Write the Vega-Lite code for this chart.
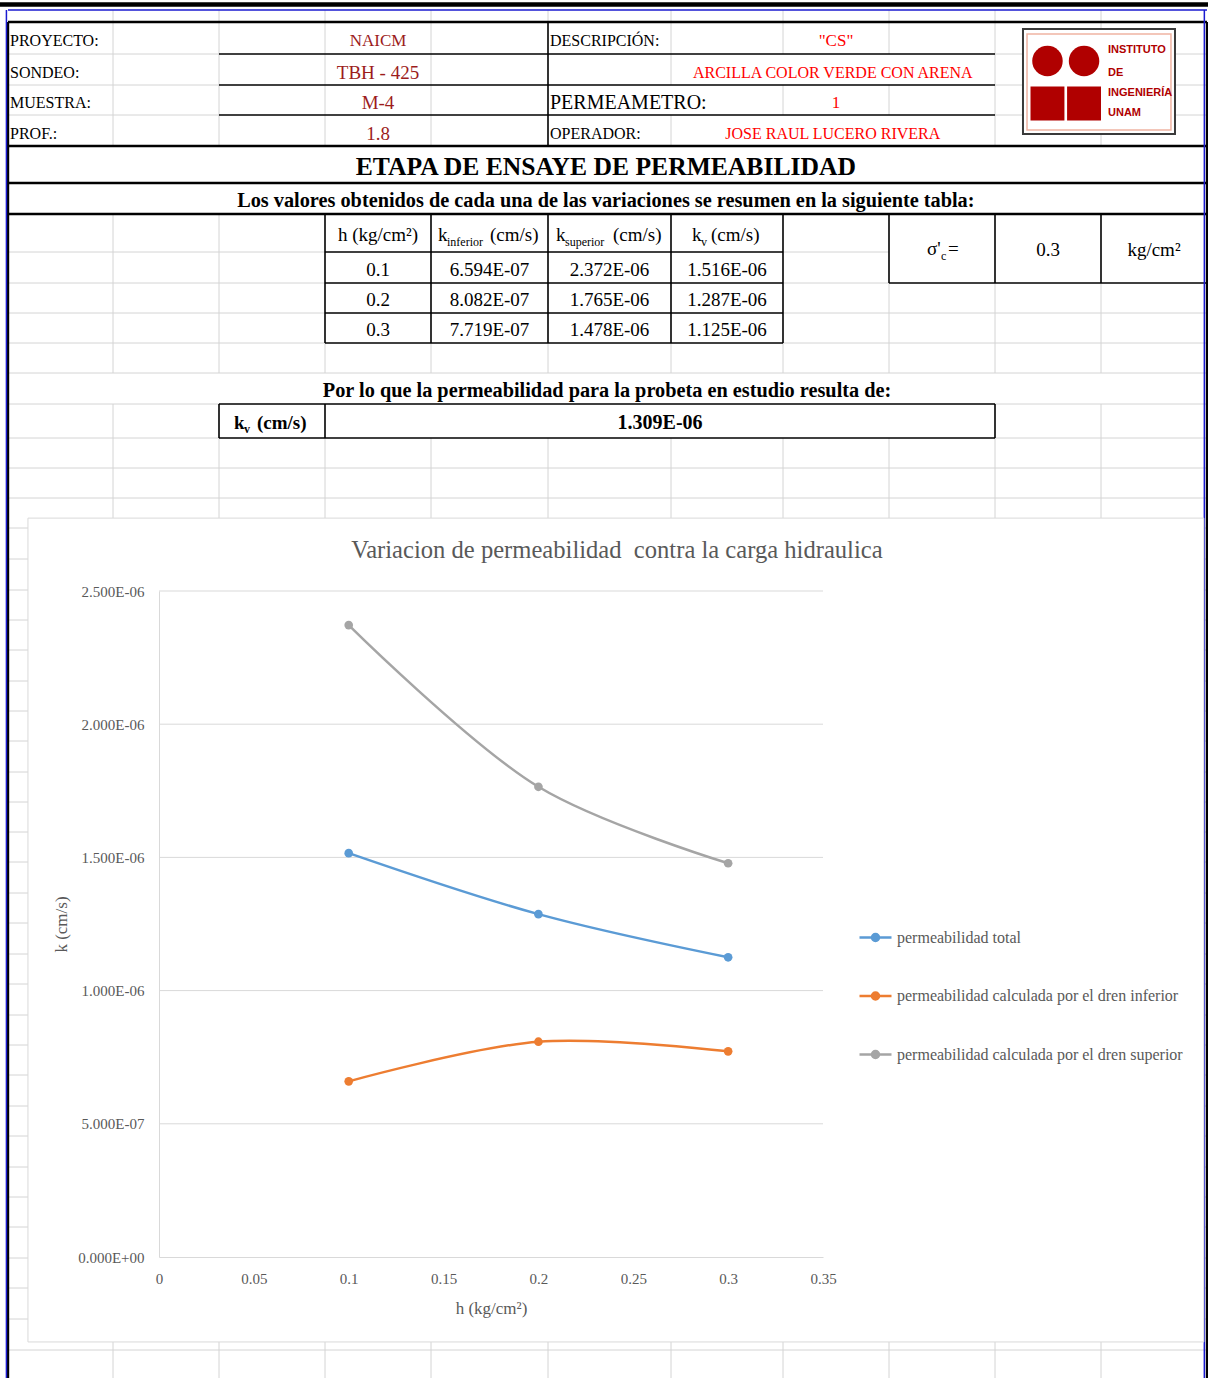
{
  "$schema": "https://vega.github.io/schema/vega-lite/v6.json",
  "width": 1208,
  "height": 1378,
  "padding": 0,
  "autosize": {"type": "none"},
  "background": "white",
  "config": {"view": {"stroke": null}, "font": "Liberation Serif"},
  "resolve": {"scale": {"x": "independent", "y": "independent"}, "axis": {"x": "independent", "y": "independent"}},
  "layer": [
    {
      "encoding": {
        "x": {"field": "c", "type": "quantitative", "axis": null,
          "scale": {"domain": [0,1,2,3,4,5,6,7,8,9,10,11], "range": [8,113,219,325,431,548,671,783,889,995,1101,1207], "nice": false, "zero": false}},
        "y": {"field": "r", "type": "quantitative", "axis": null,
          "scale": {"domain": [0,1,2,3,4,5,6,7,8,9,10,11,12,13,14,15,16,17,18,19,20,21,22,23,24,25,26,27,28,29,30,31,32,33,34,35,36,37,38,39,40,41,42,43,44,45],
                    "range": [10,22,54,85,115,146,183,214,252,283,313,343,373,404,438,468,498,528,559,590,620,650,681,711,741,772,802,832,862,893,923,954,984,1015,1045,1075,1106,1136,1167,1197,1227,1258,1288,1319,1350,1380], "nice": false, "zero": false}}
      },
      "layer": [
        {
          "data": {"values": [
            {"c":1,"r":0,"c2":1,"r2":5},{"c":1,"r":7,"c2":1,"r2":12},{"c":1,"r":13,"c2":1,"r2":45},
            {"c":2,"r":0,"c2":2,"r2":5},{"c":2,"r":7,"c2":2,"r2":12},{"c":2,"r":14,"c2":2,"r2":45},
            {"c":3,"r":0,"c2":3,"r2":5},{"c":3,"r":11,"c2":3,"r2":12},{"c":3,"r":14,"c2":3,"r2":45},
            {"c":4,"r":0,"c2":4,"r2":5},{"c":4,"r":11,"c2":4,"r2":12},{"c":4,"r":14,"c2":4,"r2":45},
            {"c":5,"r":0,"c2":5,"r2":1},{"c":5,"r":11,"c2":5,"r2":12},{"c":5,"r":14,"c2":5,"r2":45},
            {"c":6,"r":0,"c2":6,"r2":3},{"c":6,"r":4,"c2":6,"r2":5},{"c":6,"r":11,"c2":6,"r2":12},{"c":6,"r":14,"c2":6,"r2":45},
            {"c":7,"r":0,"c2":7,"r2":2},{"c":7,"r":3,"c2":7,"r2":4},{"c":7,"r":11,"c2":7,"r2":12},{"c":7,"r":14,"c2":7,"r2":45},
            {"c":8,"r":0,"c2":8,"r2":2},{"c":8,"r":3,"c2":8,"r2":4},{"c":8,"r":9,"c2":8,"r2":12},{"c":8,"r":14,"c2":8,"r2":45},
            {"c":9,"r":0,"c2":9,"r2":5},{"c":9,"r":9,"c2":9,"r2":12},{"c":9,"r":14,"c2":9,"r2":45},
            {"c":10,"r":0,"c2":10,"r2":5},{"c":10,"r":9,"c2":10,"r2":12},{"c":10,"r":13,"c2":10,"r2":45},
            {"c":0,"r":2,"c2":2,"r2":2},{"c":9,"r":2,"c2":11,"r2":2},
            {"c":0,"r":3,"c2":2,"r2":3},{"c":9,"r":3,"c2":11,"r2":3},
            {"c":0,"r":4,"c2":2,"r2":4},{"c":9,"r":4,"c2":11,"r2":4},
            {"c":0,"r":8,"c2":3,"r2":8},{"c":7,"r":8,"c2":8,"r2":8},
            {"c":0,"r":9,"c2":3,"r2":9},{"c":7,"r":9,"c2":8,"r2":9},
            {"c":0,"r":10,"c2":3,"r2":10},{"c":7,"r":10,"c2":11,"r2":10},
            {"c":0,"r":11,"c2":3,"r2":11},{"c":7,"r":11,"c2":11,"r2":11},
            {"c":0,"r":12,"c2":11,"r2":12},
            {"c":0,"r":13,"c2":2,"r2":13},{"c":9,"r":13,"c2":11,"r2":13},
            {"c":0,"r":14,"c2":2,"r2":14},{"c":9,"r":14,"c2":11,"r2":14},
            {"c":0,"r":15,"c2":11,"r2":15},{"c":0,"r":16,"c2":11,"r2":16},{"c":0,"r":17,"c2":11,"r2":17},
            {"c":0,"r":18,"c2":11,"r2":18},{"c":0,"r":19,"c2":11,"r2":19},{"c":0,"r":20,"c2":11,"r2":20},
            {"c":0,"r":21,"c2":11,"r2":21},{"c":0,"r":22,"c2":11,"r2":22},{"c":0,"r":23,"c2":11,"r2":23},
            {"c":0,"r":24,"c2":11,"r2":24},{"c":0,"r":25,"c2":11,"r2":25},{"c":0,"r":26,"c2":11,"r2":26},
            {"c":0,"r":27,"c2":11,"r2":27},{"c":0,"r":28,"c2":11,"r2":28},{"c":0,"r":29,"c2":11,"r2":29},
            {"c":0,"r":30,"c2":11,"r2":30},{"c":0,"r":31,"c2":11,"r2":31},{"c":0,"r":32,"c2":11,"r2":32},
            {"c":0,"r":33,"c2":11,"r2":33},{"c":0,"r":34,"c2":11,"r2":34},{"c":0,"r":35,"c2":11,"r2":35},
            {"c":0,"r":36,"c2":11,"r2":36},{"c":0,"r":37,"c2":11,"r2":37},{"c":0,"r":38,"c2":11,"r2":38},
            {"c":0,"r":39,"c2":11,"r2":39},{"c":0,"r":40,"c2":11,"r2":40},{"c":0,"r":41,"c2":11,"r2":41},
            {"c":0,"r":42,"c2":11,"r2":42},{"c":0,"r":43,"c2":11,"r2":43},{"c":0,"r":44,"c2":11,"r2":44}
          ]},
          "mark": {"type": "rule", "color": "#d4d4d4", "strokeWidth": 1},
          "encoding": {"x2": {"field": "c2"}, "y2": {"field": "r2"}}
        },
        {
          "data": {"values": [
            {"c":2,"r":2,"c2":9,"r2":2},{"c":2,"r":3,"c2":9,"r2":3},{"c":2,"r":4,"c2":9,"r2":4},
            {"c":3,"r":8,"c2":7,"r2":8},{"c":3,"r":9,"c2":7,"r2":9},{"c":8,"r":9,"c2":11,"r2":9},
            {"c":3,"r":10,"c2":7,"r2":10},{"c":3,"r":11,"c2":7,"r2":11},
            {"c":2,"r":13,"c2":9,"r2":13},{"c":2,"r":14,"c2":9,"r2":14},
            {"c":5,"r":1,"c2":5,"r2":5},
            {"c":3,"r":7,"c2":3,"r2":11},{"c":4,"r":7,"c2":4,"r2":11},{"c":5,"r":7,"c2":5,"r2":11},
            {"c":6,"r":7,"c2":6,"r2":11},{"c":7,"r":7,"c2":7,"r2":11},
            {"c":8,"r":7,"c2":8,"r2":9},{"c":9,"r":7,"c2":9,"r2":9},{"c":10,"r":7,"c2":10,"r2":9},
            {"c":2,"r":13,"c2":2,"r2":14},{"c":3,"r":13,"c2":3,"r2":14},{"c":9,"r":13,"c2":9,"r2":14}
          ]},
          "mark": {"type": "rule", "color": "#000000", "strokeWidth": 1.6},
          "encoding": {"x2": {"field": "c2"}, "y2": {"field": "r2"}}
        },
        {
          "data": {"values": [
            {"c":0,"r":1,"c2":11,"r2":1},{"c":0,"r":5,"c2":11,"r2":5},{"c":0,"r":6,"c2":11,"r2":6},
            {"c":0,"r":7,"c2":11,"r2":7},{"c":0,"r":1,"c2":0,"r2":45},{"c":11,"r":1,"c2":11,"r2":45}
          ]},
          "mark": {"type": "rule", "color": "#000000", "strokeWidth": 2.4},
          "encoding": {"x2": {"field": "c2"}, "y2": {"field": "r2"}}
        },
        {
          "data": {"values": [{"c":-0.1,"r":-0.45,"c2":11.1,"r2":-0.45}]},
          "mark": {"type": "rule", "color": "#000000", "strokeWidth": 4.5},
          "encoding": {"x2": {"field": "c2"}, "y2": {"field": "r2"}}
        },
        {
          "data": {"values": [
            {"c":0,"r":0,"c2":11,"r2":0},{"c":-0.015,"r":0,"c2":-0.015,"r2":45},{"c":10.975,"r":0,"c2":10.975,"r2":45}
          ]},
          "mark": {"type": "rule", "color": "#1a1ad0", "strokeWidth": 1.5},
          "encoding": {"x2": {"field": "c2"}, "y2": {"field": "r2"}}
        },
        {
          "data": {"values": [{"c":0.19,"r":16.67,"c2":10.97,"r2":43.74}]},
          "mark": {"type": "rect", "fill": "#ffffff", "stroke": "#d9d9d9", "strokeWidth": 1},
          "encoding": {"x2": {"field": "c2"}, "y2": {"field": "r2"}}
        },
        {
          "data": {"values": [{"c":9.264,"r":1.219,"c2":10.698,"r2":4.613}]},
          "mark": {"type": "rect", "fill": "#ffffff", "stroke": "#3a3a3a", "strokeWidth": 2},
          "encoding": {"x2": {"field": "c2"}, "y2": {"field": "r2"}}
        },
        {
          "data": {"values": [{"c":9.302,"r":1.375,"c2":10.66,"r2":4.484}]},
          "mark": {"type": "rect", "fill": null, "fillOpacity": 0, "stroke": "#f0b4a2", "strokeWidth": 1.5},
          "encoding": {"x2": {"field": "c2"}, "y2": {"field": "r2"}}
        },
        {
          "data": {"values": [{"c":9.495,"r":2.226},{"c":9.84,"r":2.226}]},
          "mark": {"type": "point", "shape": "circle", "filled": true, "size": 930, "color": "#b00000", "opacity": 1}
        },
        {
          "data": {"values": [{"c":9.495,"r":3.617},{"c":9.84,"r":3.617}]},
          "mark": {"type": "point", "shape": "square", "filled": true, "size": 1150, "color": "#b00000", "opacity": 1}
        },
        {
          "data": {"values": [
            {"c":10.066,"r":1.89,"t":"INSTITUTO"},{"c":10.066,"r":2.597,"t":"DE"},
            {"c":10.066,"r":3.25,"t":"INGENIERÍA"},{"c":10.066,"r":3.917,"t":"UNAM"}
          ]},
          "mark": {"type": "text", "font": "Liberation Sans", "fontWeight": "bold", "fontSize": 11, "color": "#b00000", "align": "left", "baseline": "middle"},
          "encoding": {"text": {"field": "t"}}
        },
        {
          "data": {"values": [
            {"c":0,"r":1.5,"t":"PROYECTO:"},{"c":0,"r":2.5,"t":"SONDEO:"},{"c":0,"r":3.5,"t":"MUESTRA:"},
            {"c":0,"r":4.5,"t":"PROF.:"},{"c":5,"r":1.5,"t":"DESCRIPCIÓN:"},{"c":5,"r":4.5,"t":"OPERADOR:"}
          ]},
          "mark": {"type": "text", "font": "Liberation Serif", "fontSize": 16, "color": "#000000", "align": "left", "baseline": "middle", "dx": 2, "dy": 3},
          "encoding": {"text": {"field": "t"}}
        },
        {
          "data": {"values": [{"c":5,"r":3.5,"t":"PERMEAMETRO:"}]},
          "mark": {"type": "text", "font": "Liberation Serif", "fontSize": 20, "color": "#000000", "align": "left", "baseline": "middle", "dx": 2, "dy": 3},
          "encoding": {"text": {"field": "t"}}
        },
        {
          "data": {"values": [{"c":3.5,"r":1.5,"t":"NAICM"}]},
          "mark": {"type": "text", "font": "Liberation Serif", "fontSize": 17, "color": "#9c1c1c", "align": "center", "baseline": "middle", "dy": 3},
          "encoding": {"text": {"field": "t"}}
        },
        {
          "data": {"values": [{"c":3.5,"r":2.5,"t":"TBH - 425"},{"c":3.5,"r":3.5,"t":"M-4"},{"c":3.5,"r":4.5,"t":"1.8"}]},
          "mark": {"type": "text", "font": "Liberation Serif", "fontSize": 19, "color": "#9c1c1c", "align": "center", "baseline": "middle", "dy": 3},
          "encoding": {"text": {"field": "t"}}
        },
        {
          "data": {"values": [{"c":7.5,"r":1.5,"t":"\"CS\""},{"c":7.5,"r":3.5,"t":"1"}]},
          "mark": {"type": "text", "font": "Liberation Serif", "fontSize": 17, "color": "#ff0000", "align": "center", "baseline": "middle", "dy": 3},
          "encoding": {"text": {"field": "t"}}
        },
        {
          "data": {"values": [{"c":7.47,"r":2.5,"t":"ARCILLA COLOR VERDE CON ARENA"},{"c":7.47,"r":4.5,"t":"JOSE RAUL LUCERO RIVERA"}]},
          "mark": {"type": "text", "font": "Liberation Serif", "fontSize": 16, "color": "#ff0000", "align": "center", "baseline": "middle", "dy": 3},
          "encoding": {"text": {"field": "t"}}
        },
        {
          "data": {"values": [{"c":5.47,"r":5.5,"t":"ETAPA DE ENSAYE DE PERMEABILIDAD"}]},
          "mark": {"type": "text", "font": "Liberation Serif", "fontSize": 25.6, "fontWeight": "bold", "color": "#000000", "align": "center", "baseline": "middle", "dy": 2},
          "encoding": {"text": {"field": "t"}}
        },
        {
          "data": {"values": [
            {"c":5.47,"r":6.5,"t":"Los valores obtenidos de cada una de las variaciones se resumen en la siguiente tabla:"},
            {"c":5.48,"r":12.5,"t":"Por lo que la permeabilidad para la probeta en estudio resulta de:"}
          ]},
          "mark": {"type": "text", "font": "Liberation Serif", "fontSize": 20.3, "fontWeight": "bold", "color": "#000000", "align": "center", "baseline": "middle", "dy": 2},
          "encoding": {"text": {"field": "t"}}
        },
        {
          "data": {"values": [{"c":5.911,"r":13.5,"t":"1.309E-06"}]},
          "mark": {"type": "text", "font": "Liberation Serif", "fontSize": 20, "fontWeight": "bold", "color": "#000000", "align": "center", "baseline": "middle", "dy": 2},
          "encoding": {"text": {"field": "t"}}
        },
        {
          "data": {"values": [
            {"c":3.5,"r":7.5,"t":"h (kg/cm²)"},
            {"c":3.5,"r":8.5,"t":"0.1"},{"c":3.5,"r":9.5,"t":"0.2"},{"c":3.5,"r":10.5,"t":"0.3"},
            {"c":4.5,"r":8.5,"t":"6.594E-07"},{"c":4.5,"r":9.5,"t":"8.082E-07"},{"c":4.5,"r":10.5,"t":"7.719E-07"},
            {"c":5.5,"r":8.5,"t":"2.372E-06"},{"c":5.5,"r":9.5,"t":"1.765E-06"},{"c":5.5,"r":10.5,"t":"1.478E-06"},
            {"c":6.5,"r":8.5,"t":"1.516E-06"},{"c":6.5,"r":9.5,"t":"1.287E-06"},{"c":6.5,"r":10.5,"t":"1.125E-06"},
            {"c":9.5,"r":7.9,"t":"0.3"},{"c":10.5,"r":7.9,"t":"kg/cm²"}
          ]},
          "mark": {"type": "text", "font": "Liberation Serif", "fontSize": 19, "color": "#000000", "align": "center", "baseline": "middle", "dy": 2},
          "encoding": {"text": {"field": "t"}}
        },
        {
          "data": {"values": [
            {"c":4.06,"r":7.5,"t":"k"},{"c":4.504,"r":7.5,"t":"(cm/s)"},
            {"c":5.065,"r":7.5,"t":"k"},{"c":5.528,"r":7.5,"t":"(cm/s)"},
            {"c":6.1875,"r":7.5,"t":"k"},{"c":6.357,"r":7.5,"t":"(cm/s)"},
            {"c":8.358,"r":7.88,"t":"σ'"},{"c":8.557,"r":7.88,"t":"="}
          ]},
          "mark": {"type": "text", "font": "Liberation Serif", "fontSize": 19, "color": "#000000", "align": "left", "baseline": "middle", "dy": 2},
          "encoding": {"text": {"field": "t"}}
        },
        {
          "data": {"values": [
            {"c":4.137,"r":7.5,"t":"inferior"},{"c":5.138,"r":7.5,"t":"superior"},
            {"c":6.268,"r":7.5,"t":"v"},{"c":8.491,"r":7.88,"t":"c"}
          ]},
          "mark": {"type": "text", "font": "Liberation Serif", "fontSize": 12, "color": "#000000", "align": "left", "baseline": "middle", "dy": 9},
          "encoding": {"text": {"field": "t"}}
        },
        {
          "data": {"values": [{"c":2.142,"r":13.5,"t":"k"},{"c":2.358,"r":13.5,"t":"(cm/s)"}]},
          "mark": {"type": "text", "font": "Liberation Serif", "fontSize": 19, "fontWeight": "bold", "color": "#000000", "align": "left", "baseline": "middle", "dy": 2},
          "encoding": {"text": {"field": "t"}}
        },
        {
          "data": {"values": [{"c":2.236,"r":13.5,"t":"v"}]},
          "mark": {"type": "text", "font": "Liberation Serif", "fontSize": 12, "fontWeight": "bold", "color": "#000000", "align": "left", "baseline": "middle", "dy": 8},
          "encoding": {"text": {"field": "t"}}
        },
        {
          "data": {"values": [{"c":5.56,"r":17.74,"t":"Variacion de permeabilidad\u00a0 contra la carga hidraulica"}]},
          "mark": {"type": "text", "font": "Liberation Serif", "fontSize": 24.6, "color": "#595959", "align": "center", "baseline": "middle"},
          "encoding": {"text": {"field": "t"}}
        }
      ]
    },
    {
      "data": {"values": [
        {"h":0.1,"k":1.516e-6,"serie":"permeabilidad total"},
        {"h":0.2,"k":1.287e-6,"serie":"permeabilidad total"},
        {"h":0.3,"k":1.125e-6,"serie":"permeabilidad total"},
        {"h":0.1,"k":6.594e-7,"serie":"permeabilidad calculada por el dren inferior"},
        {"h":0.2,"k":8.082e-7,"serie":"permeabilidad calculada por el dren inferior"},
        {"h":0.3,"k":7.719e-7,"serie":"permeabilidad calculada por el dren inferior"},
        {"h":0.1,"k":2.372e-6,"serie":"permeabilidad calculada por el dren superior"},
        {"h":0.2,"k":1.765e-6,"serie":"permeabilidad calculada por el dren superior"},
        {"h":0.3,"k":1.478e-6,"serie":"permeabilidad calculada por el dren superior"}
      ]},
      "encoding": {
        "x": {"field": "h", "type": "quantitative",
          "scale": {"domain": [0, 0.35], "range": [159, 823], "nice": false, "zero": false},
          "axis": {"orient": "bottom", "offset": -121, "zindex": 2, "values": [0, 0.05, 0.1, 0.15, 0.2, 0.25, 0.3, 0.35], "format": "~g",
            "grid": false, "ticks": false, "domain": true, "domainColor": "#d9d9d9", "domainWidth": 1,
            "labelFont": "Liberation Serif", "labelFontSize": 15, "labelColor": "#595959", "labelPadding": 14,
            "labelFlush": false, "labelOverlap": false, "labelBound": false,
            "title": "h (kg/cm²)", "titleFont": "Liberation Serif", "titleFontSize": 17, "titleFontWeight": "normal", "titleColor": "#595959",
            "titleX": 491, "titleY": 51, "titleAlign": "center", "titleBaseline": "middle"}},
        "y": {"field": "k", "type": "quantitative",
          "scale": {"domain": [0, 2.5e-6], "range": [1257, 591], "nice": false, "zero": false},
          "axis": {"orient": "left", "offset": -159, "zindex": 2, "values": [0, 5e-7, 1e-6, 1.5e-6, 2e-6, 2.5e-6],
            "labelExpr": "replace(upper(format(datum.value, '.3e')), regexp('E([-+])([0-9])$'), 'E$10$2')",
            "grid": false, "ticks": false, "domain": true, "domainColor": "#d9d9d9", "domainWidth": 1,
            "labelFont": "Liberation Serif", "labelFontSize": 15, "labelColor": "#595959", "labelPadding": 15,
            "labelOverlap": false, "labelBound": false, "labelFlush": false,
            "title": "k (cm/s)", "titleFont": "Liberation Serif", "titleFontSize": 17, "titleFontWeight": "normal", "titleColor": "#595959",
            "titleX": -98, "titleY": 924, "titleAngle": -90, "titleAlign": "center", "titleBaseline": "middle"}}
      },
      "layer": [
        {
          "data": {"values": [
            {"h": 0, "k": 5e-7}, {"h": 0.35, "k": 5e-7},
            {"h": 0, "k": 1e-6}, {"h": 0.35, "k": 1e-6},
            {"h": 0, "k": 1.5e-6}, {"h": 0.35, "k": 1.5e-6},
            {"h": 0, "k": 2e-6}, {"h": 0.35, "k": 2e-6},
            {"h": 0, "k": 2.5e-6}, {"h": 0.35, "k": 2.5e-6}
          ]},
          "mark": {"type": "line", "color": "#d9d9d9", "strokeWidth": 1},
          "encoding": {"detail": {"field": "k", "type": "nominal"}}
        },
        {
          "mark": {"type": "line", "interpolate": "catmull-rom", "strokeWidth": 2.5},
          "encoding": {
            "color": {"field": "serie", "type": "nominal",
              "scale": {"domain": ["permeabilidad total", "permeabilidad calculada por el dren inferior", "permeabilidad calculada por el dren superior"], "range": ["#5b9bd5", "#ed7d31", "#a5a5a5"]},
              "legend": {"orient": "none", "legendX": 858, "legendY": 920, "title": null, "direction": "vertical",
                "symbolType": "M-1,0L1,0M0.22,0A0.22,0.22,0,1,1,-0.22,0A0.22,0.22,0,1,1,0.22,0Z",
                "symbolSize": 1024, "symbolStrokeWidth": 2.5,
                "labelFont": "Liberation Serif", "labelFontSize": 16, "labelColor": "#595959", "labelOffset": 4, "labelLimit": 500,
                "rowPadding": 31.5, "padding": 0,
                "encode": {"symbols": {"update": {"fill": {"scale": "color", "field": "value"}, "stroke": {"scale": "color", "field": "value"}, "opacity": {"value": 1}}}}}
            }
          }
        },
        {
          "mark": {"type": "point", "filled": true, "size": 75, "opacity": 1},
          "encoding": {
            "color": {"field": "serie", "type": "nominal",
              "scale": {"domain": ["permeabilidad total", "permeabilidad calculada por el dren inferior", "permeabilidad calculada por el dren superior"], "range": ["#5b9bd5", "#ed7d31", "#a5a5a5"]}}
          }
        }
      ]
    }
  ]
}
